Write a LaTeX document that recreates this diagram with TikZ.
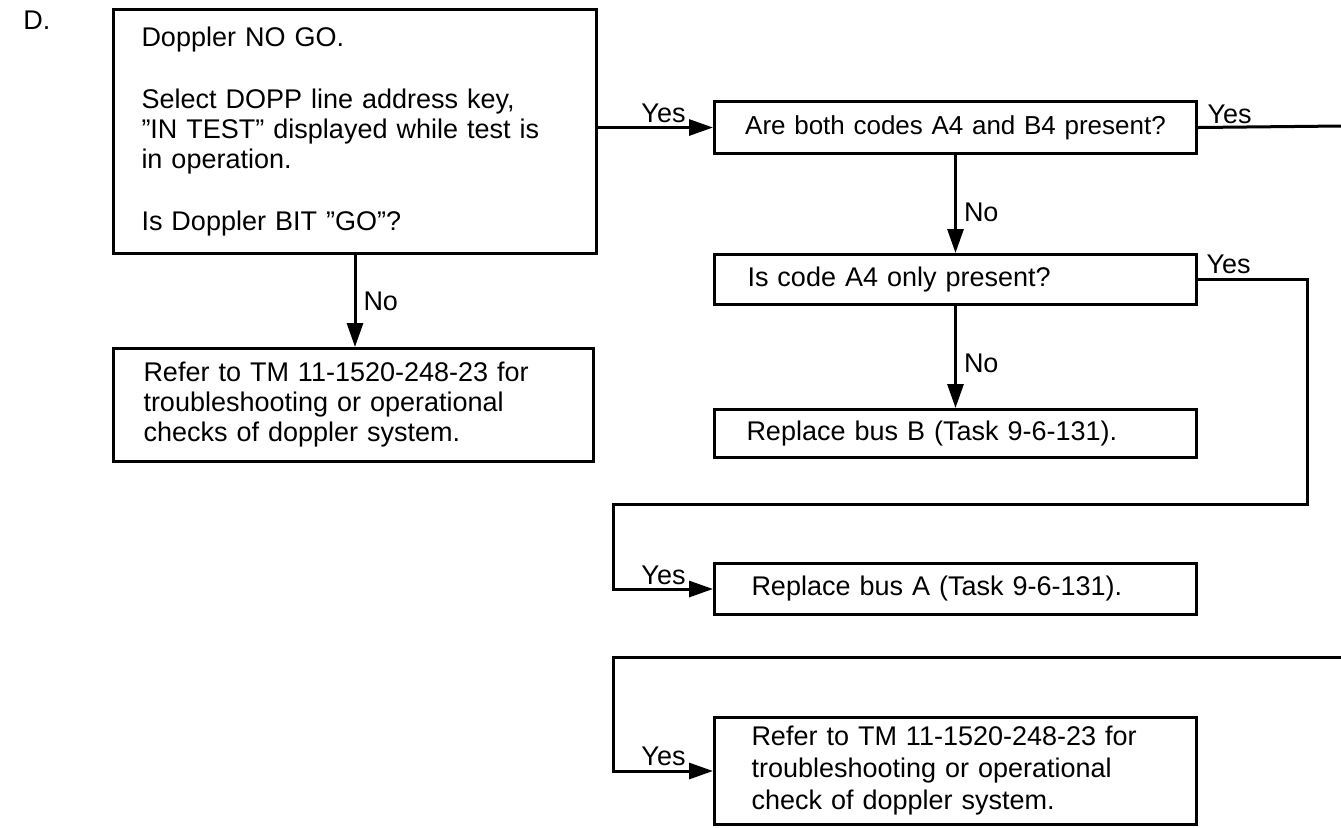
\documentclass[tikz,border=0pt]{standalone}
\usepackage{fontspec}
\setmainfont{Liberation Sans}
\usetikzlibrary{arrows.meta}
\newcommand\txtfont{\fontsize{13.5pt}{15pt}\selectfont}
\begin{document}
\begin{tikzpicture}[x=0.5pt,y=-0.5pt,line width=1.5pt,
  box/.style={draw,line width=1.5pt,anchor=north west,inner ysep=0pt,font=\txtfont,align=left},
  arr/.style={-{Triangle[length=12pt,width=8pt]},line width=1.5pt},
  lne/.style={line width=1.5pt},
  lbl/.style={font=\txtfont,inner sep=0pt}]
\useasboundingbox (0,0) rectangle (1341,827);
\node[lbl,anchor=base west] (D) at (22,29) {D.};
% boxes
\node[box,minimum width=241.5pt,minimum height=122pt,inner xsep=14pt,text width=213.5pt] (b1) at (112,8)
 {Doppler NO GO.\\[16pt]
  Select DOPP line address key,\\
  ''IN TEST'' displayed while test is\\
  in operation.\\[16pt]
  Is Doppler BIT ''GO''?};
\node[box,minimum width=240pt,minimum height=56.5pt,inner xsep=15pt,text width=210pt] (b7) at (112,347)
 {Refer to TM 11-1520-248-23 for\\
  troubleshooting or operational\\
  checks of doppler system.};
\node[box,minimum width=241pt,minimum height=26pt,inner xsep=4pt,text width=233pt,align=center,font=\fontsize{13pt}{15pt}\selectfont] (b2) at (713,100)
 {Are both codes A4 and B4 present?};
\node[box,minimum width=241pt,minimum height=25pt,inner xsep=16.5pt,text width=208pt] (b3) at (713,253)
 {Is code A4 only present?};
\node[box,minimum width=241pt,minimum height=24pt,inner xsep=16pt,text width=209pt] (b4) at (713,408)
 {Replace bus B (Task 9-6-131).};
\node[box,minimum width=241pt,minimum height=25.5pt,inner xsep=18.5pt,text width=204pt] (b5) at (713,562)
 {Replace bus A (Task 9-6-131).};
\node[box,minimum width=241pt,minimum height=53.5pt,inner xsep=18.5pt,text width=204pt,font=\fontsize{13.5pt}{16pt}\selectfont] (b6) at (713,716)
 {Refer to TM 11-1520-248-23 for\\
  troubleshooting or operational\\
  check of doppler system.};
% helper coordinates
\coordinate (r1) at (1341,126);
\coordinate (c1) at (1307,504);
\coordinate (c2) at (613,504);
\coordinate (r2) at (1341,657);
\coordinate (c3) at (613,657);
% connectors
\draw[arr] (b1.south) -- node[lbl,anchor=west,xshift=3.5pt]{No} (b1.south |- b7.north);
\draw[arr] (b2.west -| b1.east) -- (b2.west);
\node[lbl,anchor=base east] (y1) at ([xshift=-13pt,yshift=2.5pt]b2.west) {Yes};
\draw[lne] (b2.east) -- (r1);
\node[lbl,anchor=base west] (y2) at ([xshift=4pt,yshift=2pt]b2.east) {Yes};
\draw[arr] (b2.south) -- node[lbl,anchor=west,xshift=3.5pt,pos=0.58]{No} (b3.north);
\draw[arr] (b3.south) -- node[lbl,anchor=west,xshift=3.5pt,pos=0.56]{No} (b4.north);
\draw[arr] (b3.east) -| (c1) -- (c2) |- (b5.west);
\node[lbl,anchor=base west] (y3) at ([xshift=3.5pt,yshift=3pt]b3.east) {Yes};
\node[lbl,anchor=base east] (y4) at ([xshift=-13pt,yshift=2.5pt]b5.west) {Yes};
\draw[arr] (r2) -- (c3) |- (b6.west);
\node[lbl,anchor=base east] (y5) at ([xshift=-13pt,yshift=3pt]b6.west) {Yes};
\end{tikzpicture}
\end{document}
